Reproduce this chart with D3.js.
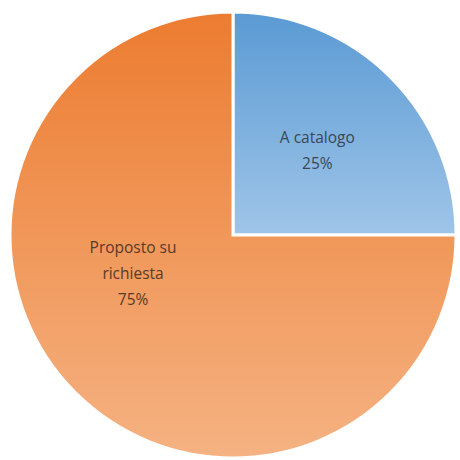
<!DOCTYPE html>
<html><head><meta charset="utf-8">
<script src="https://cdn.jsdelivr.net/npm/d3@7"></script>
<style>html,body{margin:0;padding:0;background:#fff;}</style>
</head><body>
<svg id="c" width="460" height="460"></svg>
<script>
const categories = ["A catalogo", "Proposto su richiesta"];
const labelLines = [["A catalogo"], ["Proposto su", "richiesta"]];
const values = [25, 75];
const percentLabels = ["25%", "75%"];

const W = 460, H = 460, cx = 233, cy = 235, R = 223;
const svg = d3.select("#c");
const defs = svg.append("defs");
const grads = [["#5a9ad4", "#9fc5e8"], ["#ec7c30", "#f5b282"]];
grads.forEach((g, i) => {
  const lg = defs.append("linearGradient").attr("id", "g" + i)
    .attr("x1", 0).attr("y1", 0).attr("x2", 0).attr("y2", 1);
  lg.append("stop").attr("offset", "0%").attr("stop-color", g[0]);
  lg.append("stop").attr("offset", "100%").attr("stop-color", g[1]);
});

const pie = d3.pie().sort(null).value(d => d)(values);
const arc = d3.arc().innerRadius(0).outerRadius(R);
const g = svg.append("g").attr("transform", `translate(${cx},${cy})`);
g.selectAll("path").data(pie).enter().append("path")
  .attr("d", arc)
  .attr("fill", (d, i) => `url(#g${i})`)
  .attr("stroke", "#fff").attr("stroke-width", 3).attr("stroke-linejoin", "miter");

// label positions: fraction of radius and angular shift from slice midpoint
const labelR = [0.535, 0.48];
const labelShift = [0, 0.42];
const lh = 26;
pie.forEach((d, i) => {
  const a = (d.startAngle + d.endAngle) / 2 + labelShift[i];
  const x = Math.sin(a) * R * labelR[i];
  const y = -Math.cos(a) * R * labelR[i];
  const lines = labelLines[i].concat([percentLabels[i]]);
  const t = g.append("text").attr("text-anchor", "middle")
    .attr("font-family", "'Open Sans', sans-serif").attr("font-size", 15.5)
    .attr("fill", i === 0 ? "#3a4756" : "#5a3a26");
  lines.forEach((ln, k) => {
    t.append("tspan").attr("x", x)
      .attr("y", y + (k - (lines.length - 1) / 2) * lh)
      .attr("dy", "0.35em").text(ln);
  });
});
</script>
</body></html>
